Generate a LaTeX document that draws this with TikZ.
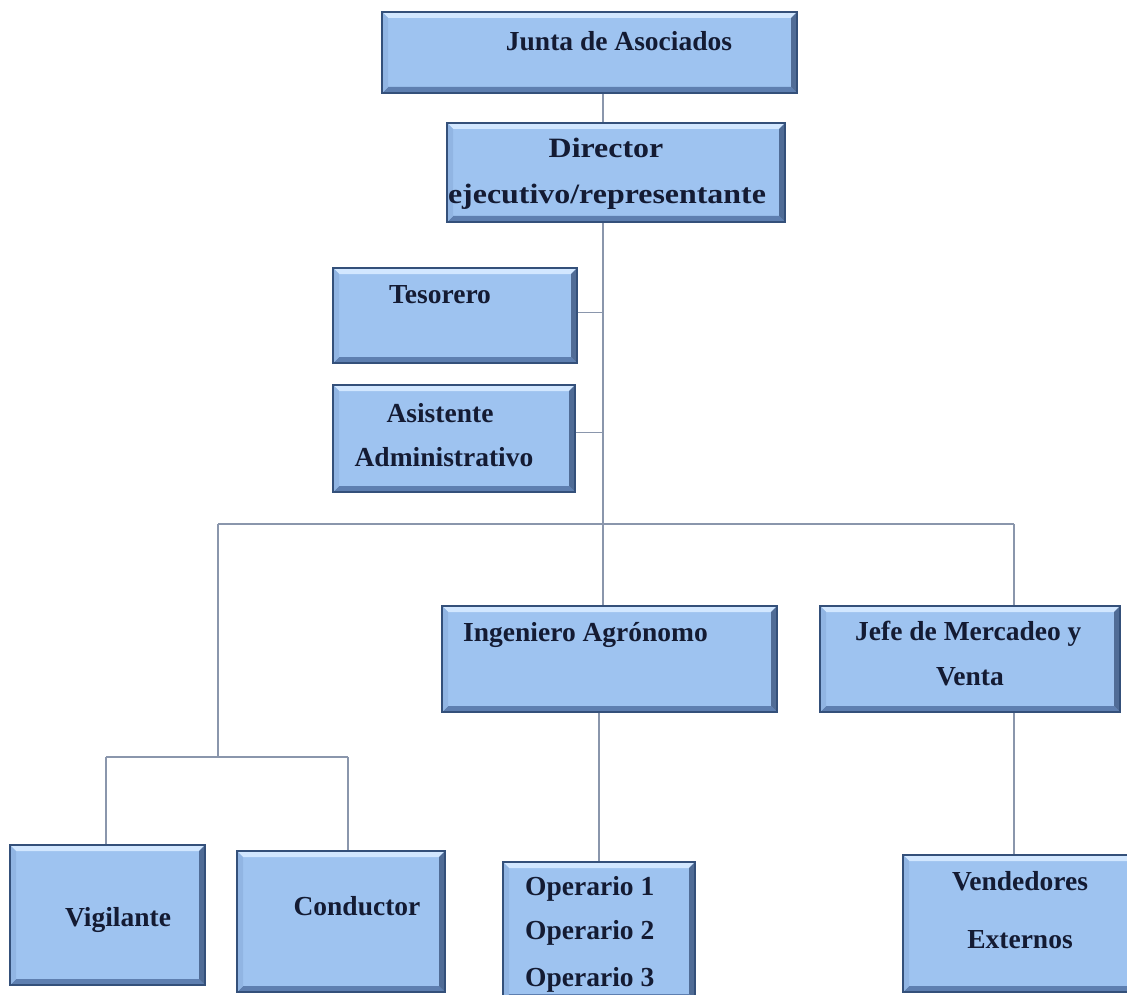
\documentclass[tikz,border=0pt]{standalone}
\usepackage{fontspec}
\setmainfont{Liberation Serif}
\newfontfamily\dirfont[FakeStretch=1.14]{Liberation Serif}
\definecolor{boxfill}{HTML}{9EC3F0}
\definecolor{boxedge}{HTML}{34507A}
\definecolor{bevlight}{HTML}{D2E7FF}
\definecolor{bevdark}{HTML}{5E7FB0}
\definecolor{txt}{HTML}{141B33}
\definecolor{conncol}{HTML}{8A96AC}
\tikzset{
  orgbox/.style={rectangle, fill=boxfill, draw=boxedge, line width=1.6pt, inner sep=0pt,
    path picture={
      \fill[bevlight] (path picture bounding box.north west) -- (path picture bounding box.north east)
        -- ([xshift=-6pt,yshift=-6pt]path picture bounding box.north east)
        -- ([xshift=6pt,yshift=-6pt]path picture bounding box.north west) -- cycle;
      \fill[bevdark] (path picture bounding box.south west) -- (path picture bounding box.south east)
        -- ([xshift=-6pt,yshift=6pt]path picture bounding box.south east)
        -- ([xshift=6pt,yshift=6pt]path picture bounding box.south west) -- cycle;
      \fill[bevdark!85!black] (path picture bounding box.north east) -- (path picture bounding box.south east)
        -- ([xshift=-6pt,yshift=6pt]path picture bounding box.south east)
        -- ([xshift=-6pt,yshift=-6pt]path picture bounding box.north east) -- cycle;
      \fill[boxfill!80!bevdark] (path picture bounding box.north west) -- (path picture bounding box.south west)
        -- ([xshift=6pt,yshift=6pt]path picture bounding box.south west)
        -- ([xshift=6pt,yshift=-6pt]path picture bounding box.north west) -- cycle;
    }},
  lbl/.style={inner sep=0pt, text=txt, font=\fontsize{27.5}{33}\selectfont\bfseries, anchor=base},
  lblw/.style={lbl, anchor=base west},
  dlbl/.style={inner sep=0pt, text=txt, font=\fontsize{28}{33}\selectfont\dirfont\bfseries, anchor=base},
  conn/.style={draw=conncol, line width=1.6pt}
}
\begin{document}
\begin{tikzpicture}[x=1pt, y=-1pt]
\useasboundingbox (0,0) rectangle (1127,995);
\clip (0,0) rectangle (1127,995);
\fill[white] (0,0) rectangle (1127,995);

% boxes
\node[orgbox, minimum width=415pt, minimum height=81pt] (junta) at (589.5,52.5) {};
\node[orgbox, minimum width=338pt, minimum height=99pt] (dir) at (616,172.5) {};
\node[orgbox, minimum width=244pt, minimum height=95pt] (tes) at (455,315.5) {};
\node[orgbox, minimum width=242pt, minimum height=107pt] (asis) at (454,438.5) {};
\node[orgbox, minimum width=335pt, minimum height=106pt] (ing) at (609.5,659) {};
\node[orgbox, minimum width=300pt, minimum height=106pt] (jefe) at (970,659) {};
\node[orgbox, minimum width=195pt, minimum height=140pt] (vig) at (107.5,915) {};
\node[orgbox, minimum width=208pt, minimum height=141pt] (cond) at (341,921.5) {};
\node[orgbox, minimum width=192pt, minimum height=138pt] (ope) at (599,931) {};
\node[orgbox, minimum width=237pt, minimum height=137pt] (vend) at (1021.5,923.5) {};

% connector guide points
\coordinate (t1) at (603,0);
\coordinate (busL) at (218,524);
\coordinate (busR) at (1014,524);
\coordinate (lowL) at (106,757);
\coordinate (lowR) at (348,757);

% connectors
\draw[conn] (t1 |- junta.south) -- (t1 |- dir.north);
\draw[conn] (t1 |- dir.south) -- (t1 |- ing.north);
\draw[conn] ([yshift=3pt]tes.east) -- ([yshift=3pt]tes.east -| t1);
\draw[conn] ([yshift=6pt]asis.east) -- ([yshift=6pt]asis.east -| t1);
\draw[conn] (busL) -- (busR);
\draw[conn] (busR) -- (busR |- jefe.north);
\draw[conn] (busL) -- (busL |- lowL);
\draw[conn] (lowL) -- (lowR);
\draw[conn] (lowL) -- (lowL |- vig.north);
\draw[conn] (lowR) -- (lowR |- cond.north);
\draw[conn] (ing.south -| ope.north) -- (ope.north);
\draw[conn] (busR |- jefe.south) -- (busR |- vend.north);

% labels
\node[lbl] (tjunta) at (619,51) {Junta de Asociados};
\node[dlbl] (tdir1) at (606,158) {Director};
\node[dlbl] (tdir2) at (607,204) {ejecutivo/representante};
\node[lbl] (ttes) at (440,303) {Tesorero};
\node[lbl] (tasis1) at (440,422) {Asistente};
\node[lbl] (tasis2) at (444,466) {Administrativo};
\node[lblw] (ting) at (463,641) {Ingeniero Agrónomo};
\node[lblw] (tjefe1) at (855,640) {Jefe de Mercadeo y};
\node[lbl] (tjefe2) at (970,685) {Venta};
\node[lblw] (tope1) at (525,895) {Operario 1};
\node[lblw] (tope2) at (525,939) {Operario 2};
\node[lblw] (tope3) at (525,986) {Operario 3};
\node[lbl] (tvig) at (118,926) {Vigilante};
\node[lbl] (tcond) at (357,915) {Conductor};
\node[lbl] (tvend1) at (1020,890) {Vendedores};
\node[lbl] (tvend2) at (1020,948) {Externos};
\end{tikzpicture}
\end{document}
